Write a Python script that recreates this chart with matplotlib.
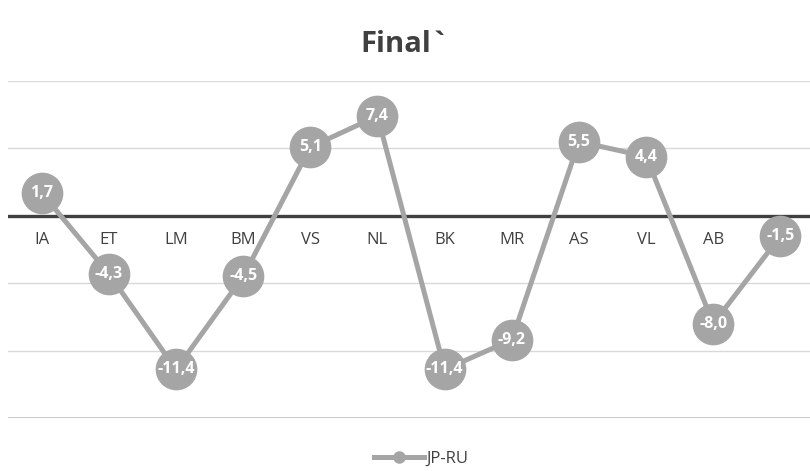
import matplotlib
matplotlib.use("Agg")
import matplotlib.pyplot as plt
from matplotlib.lines import Line2D

# Datos del gráfico
categorias = ["IA", "ET", "LM", "BM", "VS", "NL", "BK", "MR", "AS", "VL", "AB", "IE"]
valores = [1.7, -4.3, -11.4, -4.5, 5.1, 7.4, -11.4, -9.2, 5.5, 4.4, -8.0, -1.5]
serie_nombre = "JP-RU"
titulo = "Final`"

GRIS = "#A5A5A6"
plt.rcParams["font.family"] = ["Open Sans", "DejaVu Sans"]

fig = plt.figure(figsize=(8.1, 4.71), dpi=100)
ax = fig.add_axes([0.01, 0.1125, 0.995, 0.7155])

xs = list(range(len(categorias)))
ax.set_xlim(-0.5, len(categorias) - 0.5)
ax.set_ylim(-15, 10)

# Rejilla horizontal
for y in (10, 5, -5, -10):
    ax.axhline(y, color="#D9D9D9", lw=1.0, zorder=0)
ax.axhline(-15, color="#BFBFBF", lw=1.2, zorder=0)
ax.axhline(0, color="#404040", lw=2.4, zorder=1)

# Etiquetas de categoría junto a la línea de cero
for x, cat in zip(xs, categorias):
    ax.text(x, -1.2, cat, ha="center", va="top", fontsize=12, color="#404040", zorder=2)

ax.plot(xs, valores, color=GRIS, lw=3.6, marker="o", markersize=29,
        markerfacecolor=GRIS, markeredgecolor=GRIS, zorder=3)

for x, v in zip(xs, valores):
    txt = f"{v:.1f}".replace(".", ",")
    ax.text(x, v, txt, ha="center", va="center", fontsize=11.5,
            fontweight="bold", color="white", zorder=4)

for s in ax.spines.values():
    s.set_visible(False)
ax.set_xticks([])
ax.set_yticks([])

fig.text(0.5, 0.905, titulo, ha="center", va="center", fontsize=21,
         fontweight="bold", color="#404040")

handle = Line2D([0], [0], color=GRIS, lw=3.6, marker="o", markersize=8,
                markerfacecolor=GRIS, markeredgecolor=GRIS)
fig.legend([handle], [serie_nombre], loc="center", bbox_to_anchor=(0.52, 0.025),
           frameon=False, fontsize=12, handlelength=3, labelcolor="#404040",
           handletextpad=0.2)

fig.savefig("out.png", dpi=100)
